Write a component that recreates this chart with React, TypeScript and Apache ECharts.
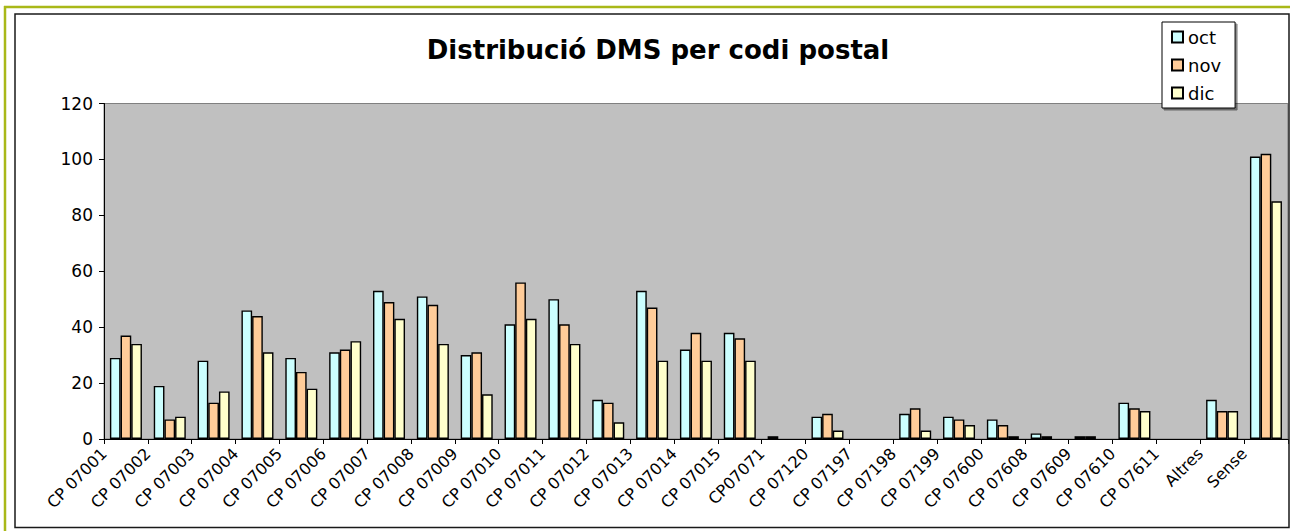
import { useEffect, useRef } from 'react';
import * as echarts from 'echarts';

// Postal codes shown along the horizontal axis
const categories = [
  'CP 07001', 'CP 07002', 'CP 07003', 'CP 07004', 'CP 07005', 'CP 07006',
  'CP 07007', 'CP 07008', 'CP 07009', 'CP 07010', 'CP 07011', 'CP 07012',
  'CP 07013', 'CP 07014', 'CP 07015', 'CP07071', 'CP 07120', 'CP 07197',
  'CP 07198', 'CP 07199', 'CP 07600', 'CP 07608', 'CP 07609', 'CP 07610',
  'CP 07611', 'Altres', 'Sense',
];

const seriesNames = ['oct', 'nov', 'dic'];

const octValues = [29, 19, 28, 46, 29, 31, 53, 51, 30, 41, 50, 14, 53, 32, 38, 1, 8, 0, 9, 8, 7, 2, 1, 13, 0, 14, 101];
const novValues = [37, 7, 13, 44, 24, 32, 49, 48, 31, 56, 41, 13, 47, 38, 36, 0, 9, 0, 11, 7, 5, 1, 1, 11, 0, 10, 102];
const dicValues = [34, 8, 17, 31, 18, 35, 43, 34, 16, 43, 34, 6, 28, 28, 28, 0, 3, 0, 3, 5, 1, 0, 0, 10, 0, 10, 85];

const seriesColors = ['#ccffff', '#ffcc99', '#ffffcc'];

// Value axis range
const yMin = 0;
const yMax = 120;
const yStep = 20;

const titleText = 'Distribució DMS per codi postal';

export default function App() {
  const ref = useRef<HTMLDivElement>(null);

  useEffect(() => {
    if (!ref.current) return;
    const chart = echarts.init(ref.current, null, { renderer: 'svg' });
    const values = [octValues, novValues, dicValues];

    chart.setOption({
      animation: false,
      backgroundColor: '#ffffff',
      title: {
        text: titleText,
        left: 653,
        top: 32,
        textAlign: 'center',
        textStyle: {
          fontFamily: 'DejaVu Sans',
          fontWeight: 'bold',
          fontSize: 26,
          color: '#000',
        },
      },
      legend: {
        data: seriesNames,
        orient: 'vertical',
        left: 1162,
        top: 22,
        itemWidth: 11,
        itemHeight: 11,
        itemGap: 10,
        padding: [6, 14, 6, 9],
        borderColor: '#000',
        borderWidth: 1,
        backgroundColor: '#fff',
        shadowColor: 'rgba(0,0,0,0.45)',
        shadowOffsetX: 2,
        shadowOffsetY: 2,
        shadowBlur: 0,
        icon: 'rect',
        textStyle: { fontFamily: 'DejaVu Sans', fontSize: 18, color: '#000' },
      },
      grid: {
        left: 104,
        right: -1,
        top: 103.5,
        bottom: 92,
        show: true,
        backgroundColor: '#c0c0c0',
        borderColor: '#808080',
        borderWidth: 1,
      },
      xAxis: [
        {
          type: 'category',
          data: categories,
          boundaryGap: true,
          axisLine: { show: true, lineStyle: { color: '#000', width: 1 } },
          axisTick: { show: true, interval: 0, length: 5, lineStyle: { color: '#000' } },
          axisLabel: { show: false },
        },
        {
          // label axis: names sit on the category boundaries
          type: 'category',
          position: 'bottom',
          data: [...categories, ''],
          boundaryGap: false,
          axisLine: { show: false },
          axisTick: { show: false },
          splitLine: { show: false },
          axisLabel: {
            interval: 0,
            rotate: 45,
            margin: 12,
            fontFamily: 'DejaVu Sans',
            fontSize: 16,
            color: '#000',
          },
        },
      ],
      yAxis: {
        type: 'value',
        min: yMin,
        max: yMax,
        interval: yStep,
        axisLine: { show: true, lineStyle: { color: '#000', width: 1 } },
        axisTick: { show: true, length: 5, lineStyle: { color: '#000' } },
        splitLine: { show: false },
        axisLabel: {
          color: '#000',
          fontFamily: 'DejaVu Sans',
          fontSize: 17,
          margin: 11,
        },
      },
      series: seriesNames.map((name, i) => ({
        name,
        type: 'bar',
        xAxisIndex: 0,
        // empty bars keep their value but draw no outline
        data: values[i].map((v) =>
          v === 0 ? { value: v, itemStyle: { borderWidth: 0 } } : v
        ),
        barGap: '0%',
        barCategoryGap: '27%',
        itemStyle: {
          color: seriesColors[i],
          borderColor: '#000',
          borderWidth: 1.4,
        },
      })),
      graphic: [
        {
          type: 'line',
          z: 100,
          shape: { x1: 4, y1: 7, x2: 1290, y2: 7 },
          style: { stroke: '#a9b818', lineWidth: 2.5 },
        },
        {
          type: 'line',
          z: 100,
          shape: { x1: 5, y1: 6, x2: 5, y2: 531 },
          style: { stroke: '#a9b818', lineWidth: 2.5 },
        },
        {
          type: 'rect',
          z: 100,
          shape: { x: 15, y: 14, width: 1274, height: 513.5 },
          style: { fill: 'none', stroke: '#1a1a1a', lineWidth: 1.5 },
        },
      ],
    });

    return () => chart.dispose();
  }, []);

  return (
    <div
      style={{
        position: 'fixed',
        left: 0,
        top: 0,
        width: 1290,
        height: 531,
        background: '#fff',
        overflow: 'hidden',
      }}
    >
      <div ref={ref} style={{ width: 1290, height: 531 }} />
    </div>
  );
}
